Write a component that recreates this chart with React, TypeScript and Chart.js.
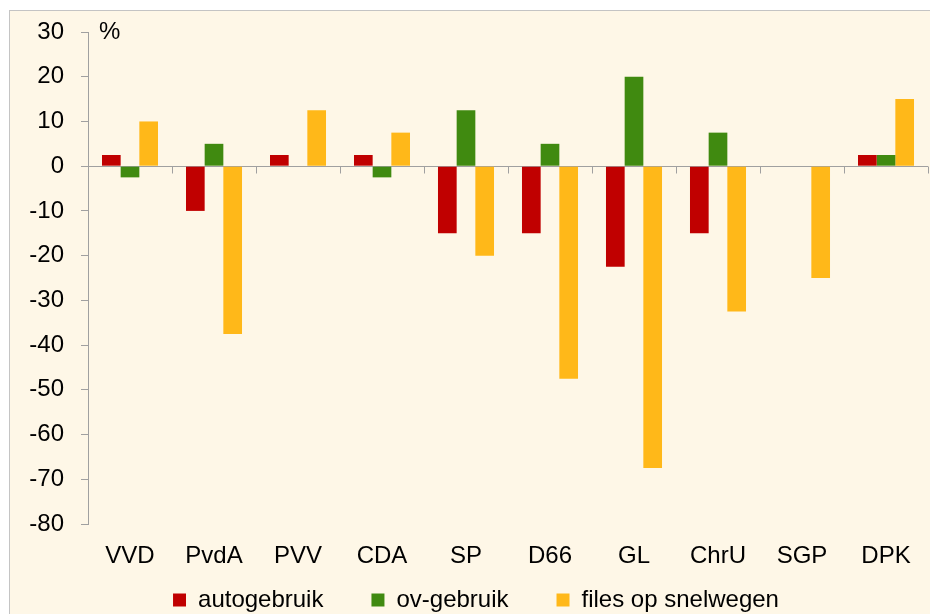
import { useEffect, useRef } from "react";
import { Chart, registerables } from "chart.js";

Chart.register(...registerables);

const categories = ["VVD", "PvdA", "PVV", "CDA", "SP", "D66", "GL", "ChrU", "SGP", "DPK"];
const autogebruik = [2.5, -10, 2.5, 2.5, -15, -15, -22.5, -15, 0, 2.5];
const ovGebruik = [-2.5, 5, 0, -2.5, 12.5, 5, 20, 7.5, 0, 2.5];
const filesOpSnelwegen = [10, -37.5, 12.5, 7.5, -20, -47.5, -67.5, -32.5, -25, 15];
const seriesNames = ["autogebruik", "ov-gebruik", "files op snelwegen"];
const seriesColors = ["#C00000", "#408A10", "#FFB819"];
const yMin = -80;
const yMax = 30;
const yStep = 10;
const unitLabel = "%";

const FONT = '"Liberation Sans", Arial, sans-serif';
const FONT_SIZE = 24;
const AXIS_GRAY = "#A0A0A0";

// unit label next to the top of the value axis
const unitPlugin = {
  id: "unitLabel",
  afterDraw(chart: any) {
    const { ctx, chartArea, scales } = chart;
    const y = scales.y.getPixelForValue(yMax);
    ctx.save();
    ctx.font = `${FONT_SIZE}px ${FONT}`;
    ctx.fillStyle = "#000";
    ctx.textAlign = "left";
    ctx.textBaseline = "middle";
    ctx.fillText(unitLabel, chartArea.left + 11, y);
    ctx.restore();
  },
};

// category axis line drawn at value 0, with tick marks between categories
const zeroAxisPlugin = {
  id: "zeroAxis",
  beforeDatasetsDraw(chart: any) {
    const { ctx, chartArea, scales } = chart;
    const xs = scales.x;
    const y0 = Math.round(scales.y.getPixelForValue(0)) + 0.5;
    ctx.save();
    ctx.strokeStyle = AXIS_GRAY;
    ctx.lineWidth = 1;
    ctx.beginPath();
    ctx.moveTo(chartArea.left, y0);
    ctx.lineTo(chartArea.right, y0);
    const n = categories.length;
    const half = (xs.getPixelForValue(1) - xs.getPixelForValue(0)) / 2;
    for (let i = 0; i <= n; i++) {
      const px = Math.round(i < n ? xs.getPixelForValue(i) - half : xs.getPixelForValue(n - 1) + half) + 0.5;
      ctx.moveTo(px, y0);
      ctx.lineTo(px, y0 + 7);
    }
    ctx.stroke();
    ctx.restore();
  },
};

export default function App() {
  const ref = useRef<HTMLCanvasElement | null>(null);

  useEffect(() => {
    if (!ref.current) return;
    const chart = new Chart(ref.current, {
      type: "bar",
      data: {
        labels: categories,
        datasets: [autogebruik, ovGebruik, filesOpSnelwegen].map((d, i) => ({
          label: seriesNames[i],
          data: d,
          backgroundColor: seriesColors[i],
          borderColor: seriesColors[i],
          borderWidth: 0,
          categoryPercentage: 0.667,
          barPercentage: 1.0,
        })),
      },
      options: {
        responsive: false,
        animation: false,
        devicePixelRatio: 1,
        layout: { padding: { top: 21, right: 3, left: 14, bottom: 0 } },
        plugins: {
          tooltip: { enabled: false },
          legend: {
            position: "bottom",
            labels: {
              boxWidth: 13,
              boxHeight: 13,
              padding: 48,
              color: "#000",
              font: { family: FONT, size: FONT_SIZE },
            },
          },
        },
        scales: {
          x: {
            type: "category",
            grid: { display: false, drawTicks: false },
            border: { display: false },
            ticks: {
              color: "#000",
              font: { family: FONT, size: FONT_SIZE },
              mirror: true,
              padding: -47,
              maxRotation: 0,
              autoSkip: false,
            },
            afterFit: (scale: any) => {
              scale.height = 16;
              scale.paddingLeft = 0;
              scale.paddingRight = 0;
            },
          },
          y: {
            min: yMin,
            max: yMax,
            ticks: {
              stepSize: yStep,
              color: "#000",
              font: { family: FONT, size: FONT_SIZE },
              padding: 17,
            },
            grid: {
              drawOnChartArea: false,
              drawTicks: true,
              tickLength: 7,
              color: AXIS_GRAY,
            },
            border: { display: true, color: AXIS_GRAY, width: 1 },
            afterFit: (scale: any) => {
              scale.width = 64;
              scale.paddingTop = 0;
              scale.paddingBottom = 0;
            },
          },
        },
      } as any,
      plugins: [zeroAxisPlugin, unitPlugin],
    });
    return () => chart.destroy();
  }, []);

  return (
    <div
      style={{
        position: "fixed",
        left: 9,
        top: 10,
        right: 0,
        bottom: 0,
        background: "#FEF7E7",
        borderLeft: "1px solid #C4C4C4",
        borderTop: "1px solid #C4C4C4",
        overflow: "hidden",
      }}
    >
      <canvas ref={ref} width={921} height={611} style={{ display: "block" }} />
    </div>
  );
}
